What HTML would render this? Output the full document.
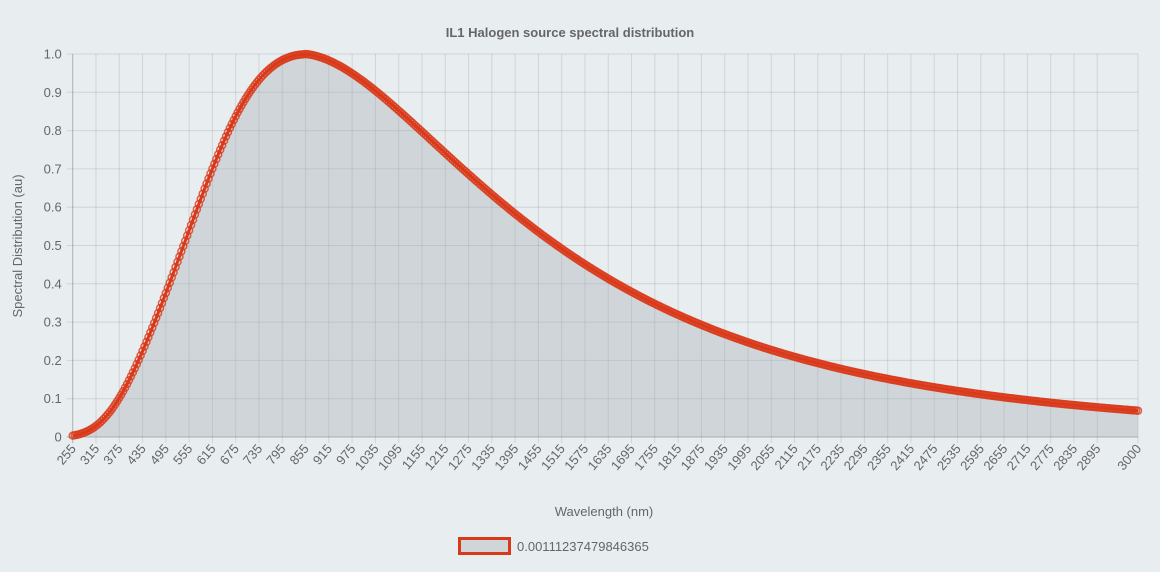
<!DOCTYPE html>
<html><head><meta charset="utf-8"><style>
html,body{margin:0;padding:0;background:#e8edf0;}
svg{display:block;font-family:"Liberation Sans",Arial,sans-serif;}
</style></head><body>
<svg id="s" width="1160" height="572" xmlns="http://www.w3.org/2000/svg">
<rect width="1160" height="572" fill="#e8edf0"/>
<text x="570" y="37" text-anchor="middle" font-size="13" font-weight="bold" fill="#666">IL1 Halogen source spectral distribution</text>
<text transform="translate(22,246) rotate(-90)" text-anchor="middle" font-size="13" fill="#666">Spectral Distribution (au)</text>
<text x="604" y="516" text-anchor="middle" font-size="13" fill="#666">Wavelength (nm)</text>
<rect x="459.5" y="538.5" width="50" height="15" fill="#d0d5d7" stroke="#d9391a" stroke-width="3"/>
<text x="517" y="551" font-size="13" fill="#666">0.00111237479846365</text>
<g id="g"></g>
</svg>
<script>
var g=document.getElementById('g'),h='';
var X0=72.7,X1=1138,Y0=437,Y1=54;
function px(l){return X0+(l-255)/2745*(X1-X0);}
function py(v){return Y0-v*(Y0-Y1);}
for(var i=0;i<=10;i++){var y=py(i/10);
h+='<line x1="'+(X0-6)+'" x2="'+X1+'" y1="'+y+'" y2="'+y+'" stroke="'+(i==0?'rgba(0,0,0,0.25)':'rgba(0,0,0,0.1)')+'"/>';
h+='<text x="'+(X0-11)+'" y="'+(y+4.5)+'" text-anchor="end" font-size="13" fill="#666">'+(i==0?'0':i==10?'1.0':(i/10).toFixed(1))+'</text>';}
var ticks=[];for(var l=255;l<=2895;l+=60)ticks.push(l);ticks.push(3000);
ticks.forEach(function(l){var x=px(l);
h+='<line x1="'+x+'" x2="'+x+'" y1="'+Y1+'" y2="'+(Y0+6)+'" stroke="'+(l==255?'rgba(0,0,0,0.25)':'rgba(0,0,0,0.1)')+'"/>';
h+='<text transform="translate('+(x+4)+','+(Y0+12)+') rotate(-50)" text-anchor="end" font-size="13" fill="#666">'+l+'</text>';});
var xp=4.965,norm=Math.pow(xp,5)/(Math.exp(xp)-1),k=1.04e-4,pts=[];
for(var l=255;l<=3000;l+=5){var u=l/855,x=xp/u;var v=Math.pow(x,5)/(Math.exp(x)-1)/norm;
if(l<855)v*=1-0.09*Math.exp(-Math.pow((u-0.6)/0.18,2));else v*=Math.exp(-k*(l-855));pts.push([l,v]);}
var d='',a='M'+px(255)+','+Y0;
pts.forEach(function(p,i){var s=px(p[0]).toFixed(2)+','+py(p[1]).toFixed(2);d+=(i?'L':'M')+s;a+='L'+s;});
a+='L'+X1+','+Y0+'Z';
h+='<path d="'+a+'" fill="rgba(160,168,172,0.35)"/>';
h+='<path d="'+d+'" fill="none" stroke="#d9391a" stroke-width="3"/>';
pts.forEach(function(p){h+='<circle cx="'+px(p[0]).toFixed(2)+'" cy="'+py(p[1]).toFixed(2)+'" r="3.5" fill="none" stroke="#d9391a" stroke-width="1.5" opacity="0.8"/>';});
g.innerHTML=h;
</script>
</body></html>
